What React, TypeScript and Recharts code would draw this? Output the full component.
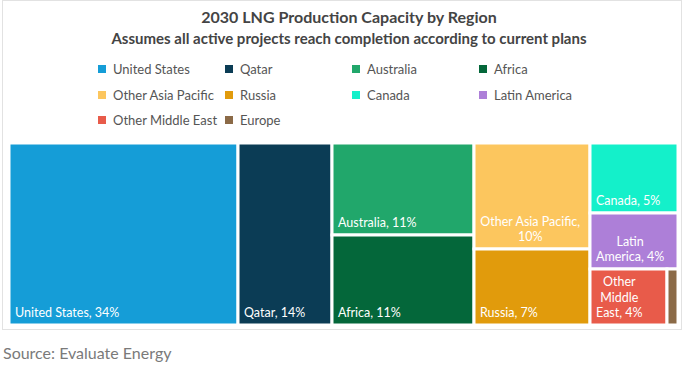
import { Treemap } from "recharts";

const regions = [
  "United States",
  "Qatar",
  "Australia",
  "Africa",
  "Other Asia Pacific",
  "Russia",
  "Canada",
  "Latin America",
  "Other Middle East",
  "Europe",
];

// share of 2030 capacity, %
const shares = [34.3, 14.0, 10.8, 10.5, 10.1, 7.3, 5.0, 4.0, 3.5, 0.5];

const colors = [
  "#159dd7",
  "#0b3c55",
  "#21a76b",
  "#04673a",
  "#fcc65e",
  "#e19b0c",
  "#14f0ca",
  "#ad7fd8",
  "#e85b4a",
  "#8b6a47",
];

// how the blocks group into columns (indexes into regions)
const columns: (number | number[])[][] = [[0], [1], [2, 3], [4, 5], [6, 7, [8, 9]]];

const leaf = (i: number) => ({ name: regions[i], value: shares[i], idx: i });

const treeData = columns.map((col, c) => ({
  name: "col" + c,
  children: col.map((item) => (Array.isArray(item) ? { name: "sub", children: item.map(leaf) } : leaf(item))),
}));

const FONT = "Lato, 'Open Sans', sans-serif";
const LABEL_SIZE = 12.5;

let ctx: CanvasRenderingContext2D | null = null;
function textWidth(s: string) {
  if (!ctx) ctx = document.createElement("canvas").getContext("2d");
  if (!ctx) return s.length * 6;
  ctx.font = `${LABEL_SIZE}px Lato`;
  return ctx.measureText(s).width;
}

function wrap(text: string, maxW: number) {
  const words = text.split(" ");
  const lines: string[] = [];
  let cur = "";
  words.forEach((w) => {
    const next = cur ? cur + " " + w : w;
    if (cur && textWidth(next) > maxW) {
      lines.push(cur);
      cur = w;
    } else {
      cur = next;
    }
  });
  if (cur) lines.push(cur);
  return lines;
}

function Block(props: any) {
  const { x, y, width, height, children, name, value, idx } = props;
  if (children && children.length) return null;
  if (idx === undefined) return null;
  const label = `${name}, ${Math.round(value)}%`;
  const pad = 6;
  const lines = width > 25 ? wrap(label, width - 2 * pad) : [];
  const maxW = Math.max(0, ...lines.map(textWidth));
  const single = lines.length === 1;
  const bottom = y + height - 8;
  return (
    <g>
      <rect x={x} y={y} width={width} height={height} fill={colors[idx]} stroke="#fff" strokeWidth={3} />
      {lines.map((ln, k) => (
        <text
          key={k}
          x={single ? x + pad : x + pad + maxW / 2}
          y={bottom - (lines.length - 1 - k) * 15.3}
          textAnchor={single ? "start" : "middle"}
          fill="#fff"
          fontSize={LABEL_SIZE}
          fontFamily={FONT}
        >
          {ln}
        </text>
      ))}
    </g>
  );
}

export default function App() {
  return (
    <div style={{ position: "fixed", left: 0, top: 0, width: 694, height: 374, background: "#fff", fontFamily: FONT }}>
      <div
        style={{
          position: "absolute",
          left: 2,
          top: 0,
          width: 680,
          height: 330,
          border: "1px solid #e2e2e2",
          boxSizing: "border-box",
        }}
      />
      <div style={{ position: "absolute", left: 0, width: 698, top: 7, textAlign: "center", fontWeight: 700, fontSize: 16, color: "#444" }}>
        2030 LNG Production Capacity by Region
      </div>
      <div style={{ position: "absolute", left: 0, width: 698, top: 29, textAlign: "center", fontWeight: 700, fontSize: 15, color: "#444" }}>
        Assumes all active projects reach completion according to current plans
      </div>
      {regions.map((r, i) => (
        <div
          key={r}
          style={{
            position: "absolute",
            left: 98 + (i % 4) * 127,
            top: 60 + Math.floor(i / 4) * 25.5,
            display: "flex",
            alignItems: "center",
            fontSize: 13,
            color: "#555",
            height: 18,
          }}
        >
          <span style={{ width: 8, height: 8, background: colors[i], display: "inline-block", marginRight: 7 }} />
          {r}
        </div>
      ))}
      <div style={{ position: "absolute", left: 9, top: 143 }}>
        <Treemap
          width={669}
          height={182}
          data={treeData}
          dataKey="value"
          aspectRatio={1}
          isAnimationActive={false}
          content={<Block />}
        />
      </div>
      <div style={{ position: "absolute", left: 3, top: 343, fontSize: 16, color: "#7a7a7a" }}>Source: Evaluate Energy</div>
    </div>
  );
}
